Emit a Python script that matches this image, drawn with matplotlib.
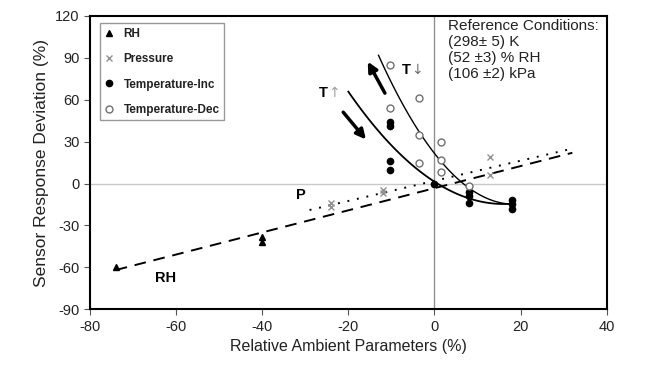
import numpy as np
import matplotlib
matplotlib.use('Agg')
import matplotlib.pyplot as plt

plt.rcParams['font.family'] = ['Liberation Sans', 'DejaVu Sans']
plt.rcParams['axes.unicode_minus'] = False

# Data
rh_x = [-74, -40, -40]
rh_y = [-60, -38, -42]

p_x = [-24, -24, -12, -12, 13, 13]
p_y = [-14, -17, -5, -7, 6, 19]

tinc_x = [-10.3, -10.3, -10.3, -10.3, 0, 8, 8, 8, 18, 18, 18]
tinc_y = [44, 41, 16, 10, 0, -6, -9, -14, -12, -15, -18]

tdec_x = [-10.3, -10.3, -3.5, -3.5, -3.5, 1.5, 1.5, 1.5, 8]
tdec_y = [85, 54, 61, 35, 15, 30, 17, 8, -2]

# Trend lines
rh_fit_x = [-74, 32]
rh_fit_y = [-62, 22]
p_fit_x = [-29, 32]
p_fit_y = [-19, 25]
tup_pts_x = [-20, -15, 0, 8, 18]
tup_pts_y = [66, 45, 0, -9, -15]
tdn_pts_x = [-13, -10, 0, 8, 13, 18]
tdn_pts_y = [92, 72, 22, -4, -11, -15]

fig = plt.figure(figsize=(6.56, 3.72), dpi=100)
ax = fig.add_axes([0.137, 0.169, 0.788, 0.788])

ax.axhline(0, color='#c8c8c8', lw=1, zorder=0)
ax.axvline(0, color='#909090', lw=1, zorder=0)

# trend curves
ax.plot(rh_fit_x, rh_fit_y, color='black', lw=1.4, ls=(0, (6, 4)))
ax.plot(p_fit_x, p_fit_y, color='black', lw=1.4, ls=(0, (1, 4)))

c_up = np.polyfit(tup_pts_x, tup_pts_y, 2)
xs = np.linspace(tup_pts_x[0], tup_pts_x[-1], 100)
ax.plot(xs, np.polyval(c_up, xs), color='black', lw=1.3)
c_dn = np.polyfit(tdn_pts_x, tdn_pts_y, 3)
xs = np.linspace(tdn_pts_x[0], tdn_pts_x[-1], 100)
ax.plot(xs, np.polyval(c_dn, xs), color='black', lw=1.0)

# markers
ax.plot(rh_x, rh_y, '^', color='black', ms=5, ls='none', label='RH')
ax.plot(p_x, p_y, 'x', color='#909090', ms=4, mew=1, ls='none', label='Pressure')
ax.plot(tinc_x, tinc_y, 'o', color='black', ms=4.5, ls='none', label='Temperature-Inc')
ax.plot(tdec_x, tdec_y, 'o', mfc='white', mec='#707070', ms=5, mew=1, ls='none',
        label='Temperature-Dec')

# arrows
ax.annotate('', xy=(-15.8, 89), xytext=(-11.2, 63),
            arrowprops=dict(arrowstyle='-|>', lw=2.5, color='black', mutation_scale=14))
ax.annotate('', xy=(-15.5, 30), xytext=(-21.6, 52.6),
            arrowprops=dict(arrowstyle='-|>', lw=2.5, color='black', mutation_scale=14))

# labels on the plot
ax.text(-24.8, 65, 'T', fontsize=10.5, fontweight='bold', ha='right', va='center')
ax.text(-24.8, 65, '\u2191', fontsize=10, color='#a0a0a0', ha='left', va='center',
        family=['DejaVu Sans'])
ax.text(-5.4, 81, 'T', fontsize=10.5, fontweight='bold', ha='right', va='center')
ax.text(-5.4, 81, '\u2193', fontsize=10, color='#707070', ha='left', va='center',
        family=['DejaVu Sans'])
ax.text(-31, -8, 'P', fontsize=10.5, fontweight='bold', ha='center', va='center')
ax.text(-62.4, -67.5, 'RH', fontsize=10.5, fontweight='bold', ha='center', va='center')

ax.text(3.1, 118, 'Reference Conditions:\n(298\u00b1 5) K\n(52 \u00b13) % RH\n(106 \u00b12) kPa',
        fontsize=11, ha='left', va='top', linespacing=1.2, color='#222222')

ax.set_xlim(-80, 40)
ax.set_ylim(-90, 120)
ax.set_xticks(np.arange(-80, 41, 20))
ax.set_yticks(np.arange(-90, 121, 30))
ax.tick_params(direction='out', length=4, labelsize=10.5, color='#555555',
               labelcolor='#222222')
ax.set_xlabel('Relative Ambient Parameters (%)', fontsize=11.5, color='#222222')
ax.set_ylabel('Sensor Response Deviation (%)', fontsize=12.5, color='#222222')
for s in ax.spines.values():
    s.set_linewidth(1.5)

leg = ax.legend(loc='upper left', fontsize=8.5, frameon=True, fancybox=False,
                edgecolor='#808080', handlelength=0.8, handletextpad=0.8,
                labelspacing=1.12, borderpad=0.4, bbox_to_anchor=(0.008, 0.995))
leg.get_frame().set_linewidth(1)
for t in leg.get_texts():
    t.set_fontweight('bold')
    t.set_color('#222222')

fig.savefig('out.png', dpi=100)
